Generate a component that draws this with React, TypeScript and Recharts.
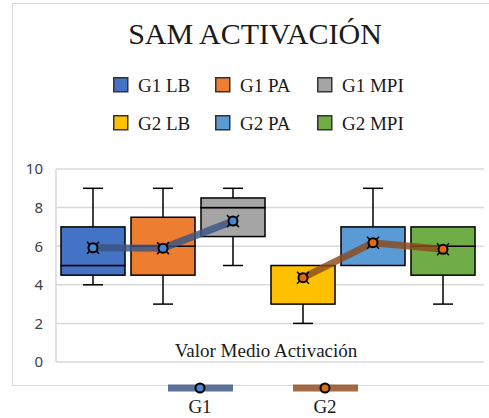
import { ComposedChart, Bar, Line, XAxis, YAxis, CartesianGrid } from 'recharts';

// box-and-whisker summary per condition
const boxNames = ['G1 LB', 'G1 PA', 'G1 MPI', 'G2 LB', 'G2 PA', 'G2 MPI'];
const boxColors = ['#4472C4', '#ED7D31', '#A5A5A5', '#FFC000', '#5B9BD5', '#70AD47'];
const mins = [4, 3, 5, 2, 5, 3];
const q1s = [4.5, 4.5, 6.5, 3, 5, 4.5];
const medians = [5, 6, 8, 5, 7, 6];
const q3s = [7, 7.5, 8.5, 5, 7, 7];
const maxs = [9, 9, 9, 5, 9, 7];
const means = [5.92, 5.9, 7.3, 4.37, 6.18, 5.84];

// mean lines, one per group
const groups = ['G1', 'G2'];
const groupOf = [0, 0, 0, 1, 1, 1];
const groupLineColors = ['#3b5483', '#8b4a1c'];
const groupDotColors = ['#4a86d0', '#e06a10'];

const yTicks = [0, 2, 4, 6, 8, 10];
const title = 'SAM ACTIVACIÓN';
const categoryLabel = 'Valor Medio Activación';

const data = boxNames.map((name, i) => {
  const row: Record<string, string | number | null> = {
    name,
    base: mins[i],
    lowWhisker: q1s[i] - mins[i],
    lowBox: medians[i] - q1s[i],
    highBox: q3s[i] - medians[i],
    highWhisker: maxs[i] - q3s[i],
    mean: means[i],
  };
  groups.forEach((g, gi) => {
    row[g] = groupOf[i] === gi ? means[i] : null;
  });
  return row;
});

const SERIF = '"Liberation Serif", "Times New Roman", serif';
const SANS = '"Noto Sans", "Liberation Sans", sans-serif';

const Empty = () => <g />;

const WhiskerLow = (p: any) => {
  const { x, y, width, height } = p;
  if (!height) return <g />;
  const cx = x + width / 2;
  return (
    <g stroke="#000" strokeWidth={1.5}>
      <line x1={cx} x2={cx} y1={y} y2={y + height} />
      <line x1={cx - 10} x2={cx + 10} y1={y + height} y2={y + height} />
    </g>
  );
};

const WhiskerHigh = (p: any) => {
  const { x, y, width, height } = p;
  if (!height) return <g />;
  const cx = x + width / 2;
  return (
    <g stroke="#000" strokeWidth={1.5}>
      <line x1={cx} x2={cx} y1={y} y2={y + height} />
      <line x1={cx - 10} x2={cx + 10} y1={y} y2={y} />
    </g>
  );
};

const BoxPart = (p: any) => {
  const { x, y, width, height, index } = p;
  if (!height) return <g />;
  return (
    <rect
      x={x}
      y={y}
      width={width}
      height={height}
      fill={boxColors[index]}
      stroke="#000"
      strokeWidth={1.5}
    />
  );
};

const MeanCross = (p: any) => {
  const { cx, cy, index } = p;
  if (cx == null || cy == null) return <g key={`x-${index}`} />;
  const d = 6;
  return (
    <g key={`x-${index}`} stroke="#000" strokeWidth={1.5}>
      <line x1={cx - d} y1={cy - d} x2={cx + d} y2={cy + d} />
      <line x1={cx - d} y1={cy + d} x2={cx + d} y2={cy - d} />
    </g>
  );
};

const makeDot = (gi: number) => (p: any) => {
  const { cx, cy, index, value } = p;
  if (value == null || cx == null || cy == null) return <g key={`d-${gi}-${index}`} />;
  return (
    <circle
      key={`d-${gi}-${index}`}
      cx={cx}
      cy={cy}
      r={4.5}
      fill={groupDotColors[gi]}
      stroke="#000"
      strokeWidth={2}
    />
  );
};

export default function App() {
  return (
    <div
      style={{
        position: 'absolute',
        left: 0,
        top: 0,
        width: 489,
        height: 418,
        overflow: 'hidden',
        background: '#fff',
      }}
    >
      {/* chart frame */}
      <div
        style={{
          position: 'absolute',
          left: 12,
          top: 3,
          width: 600,
          height: 381,
          border: '1.5px solid #d9d9d9',
        }}
      />
      <div style={{ position: 'absolute', left: 0, top: 0 }}>
        <ComposedChart
          width={489}
          height={418}
          data={data}
          margin={{ top: 169, right: 5, bottom: 56, left: 0 }}
        >
          <CartesianGrid vertical={false} stroke="#d9d9d9" strokeWidth={1.5} />
          <XAxis dataKey="name" hide padding={{ left: 2, right: 6 }} />
          <YAxis
            width={56}
            domain={[0, 10]}
            ticks={yTicks}
            interval={0}
            axisLine={{ stroke: '#d9d9d9', strokeWidth: 1.5 }}
            tickLine={false}
            tickSize={6}
            tickMargin={7}
            tick={{ fill: '#404040', fontSize: 15, fontFamily: SANS }}
          />
          <Bar dataKey="base" stackId="box" barSize={64} shape={Empty} isAnimationActive={false} />
          <Bar dataKey="lowWhisker" stackId="box" barSize={64} shape={WhiskerLow} isAnimationActive={false} />
          <Bar dataKey="lowBox" stackId="box" barSize={64} shape={BoxPart} isAnimationActive={false} />
          <Bar dataKey="highBox" stackId="box" barSize={64} shape={BoxPart} isAnimationActive={false} />
          <Bar dataKey="highWhisker" stackId="box" barSize={64} shape={WhiskerHigh} isAnimationActive={false} />
          <Line
            dataKey="mean"
            stroke="none"
            dot={MeanCross}
            activeDot={false}
            isAnimationActive={false}
          />
          {groups.map((g, gi) => (
            <Line
              key={g}
              dataKey={g}
              stroke={groupLineColors[gi]}
              strokeOpacity={0.82}
              strokeWidth={7}
              dot={makeDot(gi)}
              activeDot={false}
              connectNulls={false}
              isAnimationActive={false}
            />
          ))}
        </ComposedChart>
      </div>
      <svg
        width={489}
        height={418}
        style={{ position: 'absolute', left: 0, top: 0, pointerEvents: 'none' }}
      >
        <text x={255} y={44} textAnchor="middle" fontFamily={SERIF} fontSize={30} fill="#1a1a1a">
          {title}
        </text>
        {boxNames.map((name, i) => {
          const col = i % 3;
          const row = Math.floor(i / 3);
          const sx = 113 + col * 102;
          const sy = 77 + row * 38;
          return (
            <g key={name}>
              <rect
                x={sx + 0.75}
                y={sy + 0.75}
                width={14}
                height={14}
                fill={boxColors[i]}
                stroke="#333"
                strokeWidth={1.5}
              />
              <text x={sx + 25} y={sy + 15} fontFamily={SERIF} fontSize={19} fill="#1a1a1a">
                {name}
              </text>
            </g>
          );
        })}
        <text x={266} y={357} textAnchor="middle" fontFamily={SERIF} fontSize={19} fill="#1a1a1a">
          {categoryLabel}
        </text>
        {groups.map((g, gi) => {
          const cx = 200 + gi * 125;
          return (
            <g key={g}>
              <line
                x1={cx - 32}
                x2={cx + 33}
                y1={388}
                y2={388}
                stroke={groupLineColors[gi]}
                strokeOpacity={0.82}
                strokeWidth={7}
              />
              <circle cx={cx} cy={388} r={4.5} fill={groupDotColors[gi]} stroke="#000" strokeWidth={2} />
              <text x={cx} y={413} textAnchor="middle" fontFamily={SERIF} fontSize={19} fill="#1a1a1a">
                {g}
              </text>
            </g>
          );
        })}
      </svg>
    </div>
  );
}
